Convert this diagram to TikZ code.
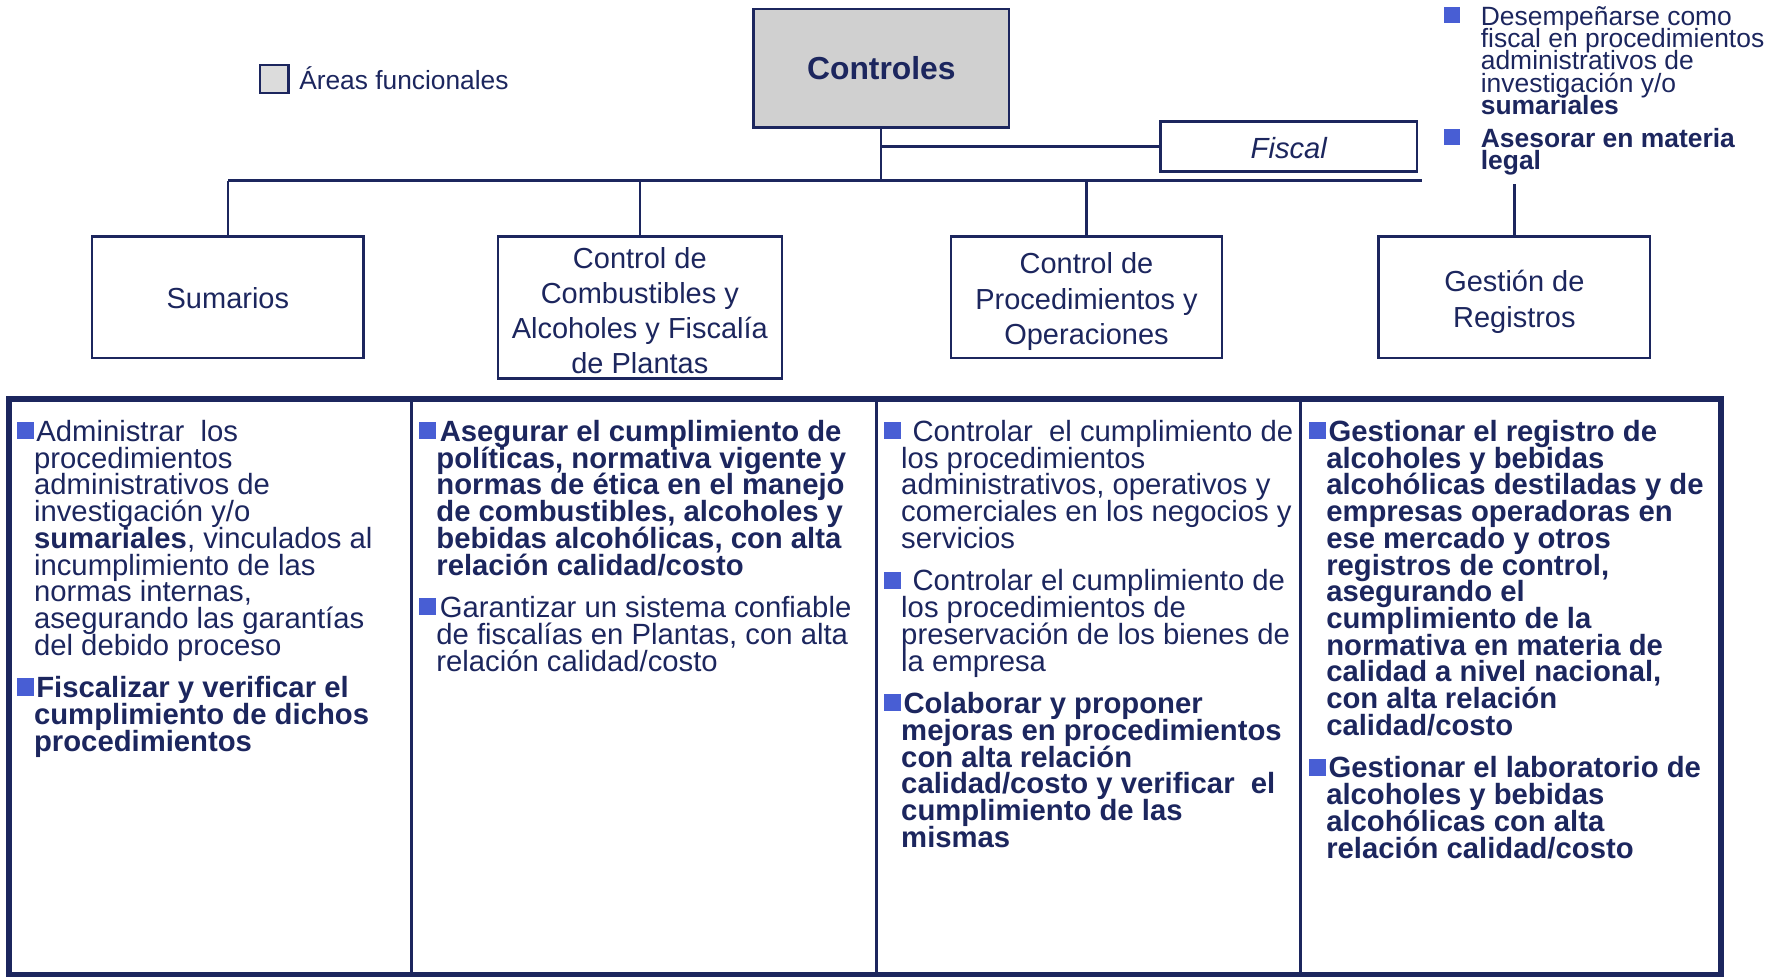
\documentclass[tikz,border=0pt]{standalone}
\usepackage{fontspec}
\setmainfont{Liberation Sans}
\definecolor{navy}{RGB}{28,38,94}
\definecolor{bulblue}{RGB}{72,94,212}
\definecolor{ctrlgray}{RGB}{208,208,208}
\definecolor{leggray}{RGB}{220,220,220}
\newcommand\bodyfont{\fontsize{15.45pt}{14.1pt}\selectfont\lineskiplimit=-100pt\relax}
\newcommand\topfont{\fontsize{13.95pt}{11.8pt}\selectfont\lineskiplimit=-100pt\relax}
\newcommand\bul{\textcolor{bulblue}{\rule[1.2pt]{9pt}{9pt}}}
\newcommand\sbul{\textcolor{bulblue}{\rule[1.2pt]{8.4pt}{8.4pt}}}
\newcommand\topr[1]{\rule{0pt}{#1}}
\newcommand\botr[1][4pt]{\rule[-#1]{0pt}{#1}}
\begin{document}
\begin{tikzpicture}[x=0.6pt,y=-0.6pt,
  every node/.style={text=navy},
  conn/.style={draw=navy,line width=1.2pt},
  bus/.style={draw=navy,line width=1.4pt},
  orgbox/.style={draw=navy,line width=1.3pt,fill=white,align=center,inner sep=0pt,
    font=\fontsize{15.3pt}{18.6pt}\selectfont},
  coltext/.style={anchor=base west,inner sep=0pt,outer sep=0pt}]
\useasboundingbox (0,0) rectangle (1568,859);

% legend
\node[draw=navy,line width=1.3pt,fill=leggray,minimum width=15pt,minimum height=15pt,inner sep=0pt] (leg) at (241.5,69.5) {};
\node[anchor=base west,inner sep=0pt,font=\fontsize{13.9pt}{16pt}\selectfont] (legt) at (263,78.5) {Áreas funcionales};

% top boxes
\node[orgbox,fill=ctrlgray,minimum width=135pt,minimum height=62.4pt,font=\fontsize{16.8pt}{20pt}\selectfont\bfseries] (ctrl) at (775.5,60) {Controles};
\node[orgbox,minimum width=135.6pt,minimum height=26.4pt,font=\fontsize{15.4pt}{18pt}\selectfont\itshape] (fiscal) at (1134,129) {\topr{17pt}Fiscal\botr};

\node[orgbox,minimum width=143.4pt,minimum height=64.2pt] (sum) at (200.5,261.5) {\topr{16.4pt}Sumarios\botr};
\node[orgbox,minimum width=150pt,minimum height=75pt] (comb) at (563,270.5) {\topr{15.5pt}Control de\\Combustibles y\\Alcoholes y Fiscalía\\de Plantas\botr[1.3pt]};
\node[orgbox,minimum width=142.8pt,minimum height=64.2pt] (proc) at (956,261.5) {\topr{16.6pt}Control de\\Procedimientos y\\Operaciones\botr};
\node[orgbox,minimum width=143.4pt,minimum height=64.2pt] (gest) at (1332.5,261.5) {\topr{17pt}Gestión de\\Registros\botr};

% connectors
\coordinate (busL) at (201,159);
\coordinate (busR) at (1251,159);
\coordinate (gtop) at (1333,162);
\draw[bus] (busL) -- (busR);
\draw[conn] (ctrl.south) -- (ctrl.south |- busL);
\draw[conn] (ctrl.south |- fiscal.west) -- (fiscal.west);
\draw[conn] (sum.north) -- (sum.north |- busL);
\draw[conn] (comb.north) -- (comb.north |- busL);
\draw[conn] (proc.north) -- (proc.north |- busL);
\draw[conn] (gest.north) -- (gest.north |- gtop);

% fiscal functions
\node[coltext] (ftxt) at (1303,22) {\parbox[t]{170pt}{\topfont
\leavevmode\llap{\sbul\hspace*{10.8pt}}Desempeñarse como\\
fiscal en procedimientos\\
administrativos de\\
investigación y/o\\
\textbf{sumariales}\\[5.7pt]
\llap{\sbul\hspace*{10.8pt}}\textbf{Asesorar en materia}\\
\textbf{legal}}};

% table
\draw[navy,line width=3.2pt] (8,351) rectangle (1514.5,858);
\draw[navy,line width=1.5pt] (362,351) -- (362,858);
\draw[navy,line width=1.5pt] (771,351) -- (771,858);
\draw[navy,line width=1.5pt] (1144.5,351) -- (1144.5,858);

\node[coltext] (c1) at (30,388.5) {\parbox[t]{200pt}{\bodyfont
\leavevmode\llap{\bul}\hspace*{1.2pt}Administrar\ \ los\\
procedimientos\\
administrativos de\\
investigación y/o\\
\textbf{sumariales}, vinculados al\\
incumplimiento de las\\
normas internas,\\
asegurando las garantías\\
del debido proceso\\[8.4pt]
\llap{\bul}\hspace*{1.2pt}\textbf{Fiscalizar y verificar el}\\
\textbf{cumplimiento de dichos}\\
\textbf{procedimientos}}};

\node[coltext] (c2) at (384,388.5) {\parbox[t]{240pt}{\bodyfont
\leavevmode\llap{\bul}\hspace*{1.8pt}\textbf{Asegurar el cumplimiento de}\\
\textbf{políticas, normativa vigente y}\\
\textbf{normas de ética en el manejo}\\
\textbf{de combustibles, alcoholes y}\\
\textbf{bebidas alcohólicas, con alta}\\
\textbf{relación calidad/costo}\\[8.4pt]
\llap{\bul}\hspace*{1.8pt}Garantizar un sistema confiable\\
de fiscalías en Plantas, con alta\\
relación calidad/costo}};

\node[coltext] (c3) at (793,388.5) {\parbox[t]{240pt}{\bodyfont
\leavevmode\llap{\bul}\hspace*{6pt}Controlar\ \ el cumplimiento de\\
los procedimientos\\
administrativos, operativos y\\
comerciales en los negocios y\\
servicios\\[8.4pt]
\llap{\bul}\hspace*{6pt}Controlar el cumplimiento de\\
los procedimientos de\\
preservación de los bienes de\\
la empresa\\[8.4pt]
\llap{\bul}\hspace*{1.2pt}\textbf{Colaborar y proponer}\\
\textbf{mejoras en procedimientos}\\
\textbf{con alta relación}\\
\textbf{calidad/costo y verificar\ \ el}\\
\textbf{cumplimiento de las}\\
\textbf{mismas}}};

\node[coltext] (c4) at (1167,388.5) {\parbox[t]{240pt}{\bodyfont\bfseries
\leavevmode\llap{\bul}\hspace*{1.2pt}Gestionar el registro de\\
alcoholes y bebidas\\
alcohólicas destiladas y de\\
empresas operadoras en\\
ese mercado y otros\\
registros de control,\\
asegurando el\\
cumplimiento de la\\
normativa en materia de\\
calidad a nivel nacional,\\
con alta relación\\
calidad/costo\\[8.4pt]
\llap{\bul}\hspace*{1.2pt}Gestionar el laboratorio de\\
alcoholes y bebidas\\
alcohólicas con alta\\
relación calidad/costo}};
\end{tikzpicture}
\end{document}
